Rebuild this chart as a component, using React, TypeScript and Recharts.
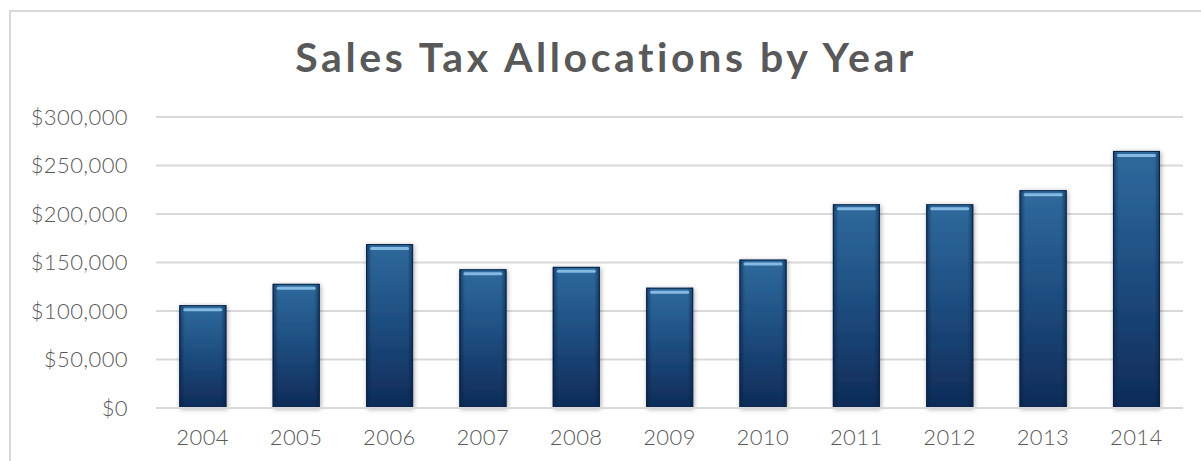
import React from "react";
import { BarChart, Bar, XAxis, YAxis, CartesianGrid } from "recharts";

const YEARS = ["2004", "2005", "2006", "2007", "2008", "2009", "2010", "2011", "2012", "2013", "2014"];
const ALLOCATIONS = [106000, 128000, 169000, 143000, 145500, 124000, 153000, 210000, 210000, 224500, 265000];
const Y_TICKS = [0, 50000, 100000, 150000, 200000, 250000, 300000];

const data = YEARS.map((year, i) => ({ year, value: ALLOCATIONS[i] }));

const FONT = "Lato, 'Open Sans', 'DejaVu Sans', sans-serif";
const TEXT_GRAY = "#595959";

function formatMoney(v: number) {
  return "$" + v.toLocaleString("en-US");
}

// glossy bar: vertical gradient, dark edge, light strip along the top
const GlossyBar = (props: any) => {
  const { x, y, width, height } = props;
  if (!height || height <= 0) return null;
  return (
    <g>
      <defs>
        <linearGradient id="barFill" x1="0" y1="0" x2="0" y2="1">
          <stop offset="0%" stopColor="#2f6a9d" />
          <stop offset="45%" stopColor="#1f4f82" />
          <stop offset="100%" stopColor="#0e2b57" />
        </linearGradient>
        <linearGradient id="barEdge" x1="0" y1="0" x2="1" y2="0">
          <stop offset="0%" stopColor="#0a1f3f" stopOpacity={0.6} />
          <stop offset="12%" stopColor="#0a1f3f" stopOpacity={0} />
          <stop offset="88%" stopColor="#0a1f3f" stopOpacity={0} />
          <stop offset="100%" stopColor="#0a1f3f" stopOpacity={0.6} />
        </linearGradient>
        <filter id="barShadow" x="-30%" y="-10%" width="160%" height="120%">
          <feDropShadow dx="1" dy="1" stdDeviation="2.5" floodColor="#000" floodOpacity="0.35" />
        </filter>
      </defs>
      <rect x={x} y={y} width={width} height={height} fill="url(#barFill)" filter="url(#barShadow)" />
      <rect x={x} y={y} width={width} height={height} fill="url(#barEdge)" />
      <rect x={x + 0.5} y={y + 0.5} width={width - 1} height={height - 1} fill="none" stroke="#0b2446" strokeWidth={1} />
      <rect x={x + 4} y={y + 3} width={width - 8} height={3} rx={1.5} fill="#8ec2ea" opacity={0.9} />
    </g>
  );
};

export default function App() {
  return (
    <div style={{ position: "absolute", left: 0, top: 0, width: 1201, height: 461, background: "#fff", overflow: "hidden" }}>
      <div
        style={{
          position: "absolute",
          left: 9,
          top: 10,
          width: 1300,
          height: 600,
          border: "2px solid #d9d9d9",
          boxSizing: "border-box",
        }}
      />
      <div
        style={{
          position: "absolute",
          left: 0,
          width: 1212,
          top: 31,
          textAlign: "center",
          fontFamily: FONT,
          fontWeight: 700,
          fontSize: 41,
          letterSpacing: 3.6,
          color: TEXT_GRAY,
          lineHeight: "52px",
        }}
      >
        Sales Tax Allocations by Year
      </div>
      <div style={{ position: "absolute", left: 0, top: 0 }}>
        <BarChart
          width={1201}
          height={461}
          data={data}
          margin={{ top: 117, right: 18, bottom: 0, left: 10 }}
          barCategoryGap="25%"
        >
          <CartesianGrid vertical={false} stroke="#d9d9d9" strokeWidth={2} />
          <XAxis
            dataKey="year"
            axisLine={{ stroke: "#d9d9d9", strokeWidth: 2 }}
            tickLine={false}
            tickSize={0}
            tickMargin={21}
            height={53}
            interval={0}
            tick={{ fill: TEXT_GRAY, fontSize: 22, fontFamily: FONT, fontWeight: 300, letterSpacing: 0.4 }}
          />
          <YAxis
            domain={[0, 300000]}
            ticks={Y_TICKS}
            tickFormatter={formatMoney}
            axisLine={false}
            tickLine={false}
            tickSize={0}
            tickMargin={28}
            width={146}
            tick={{ fill: TEXT_GRAY, fontSize: 22, fontFamily: FONT, fontWeight: 300, letterSpacing: 0.4 }}
          />
          <Bar dataKey="value" shape={<GlossyBar />} isAnimationActive={false} />
        </BarChart>
      </div>
    </div>
  );
}
